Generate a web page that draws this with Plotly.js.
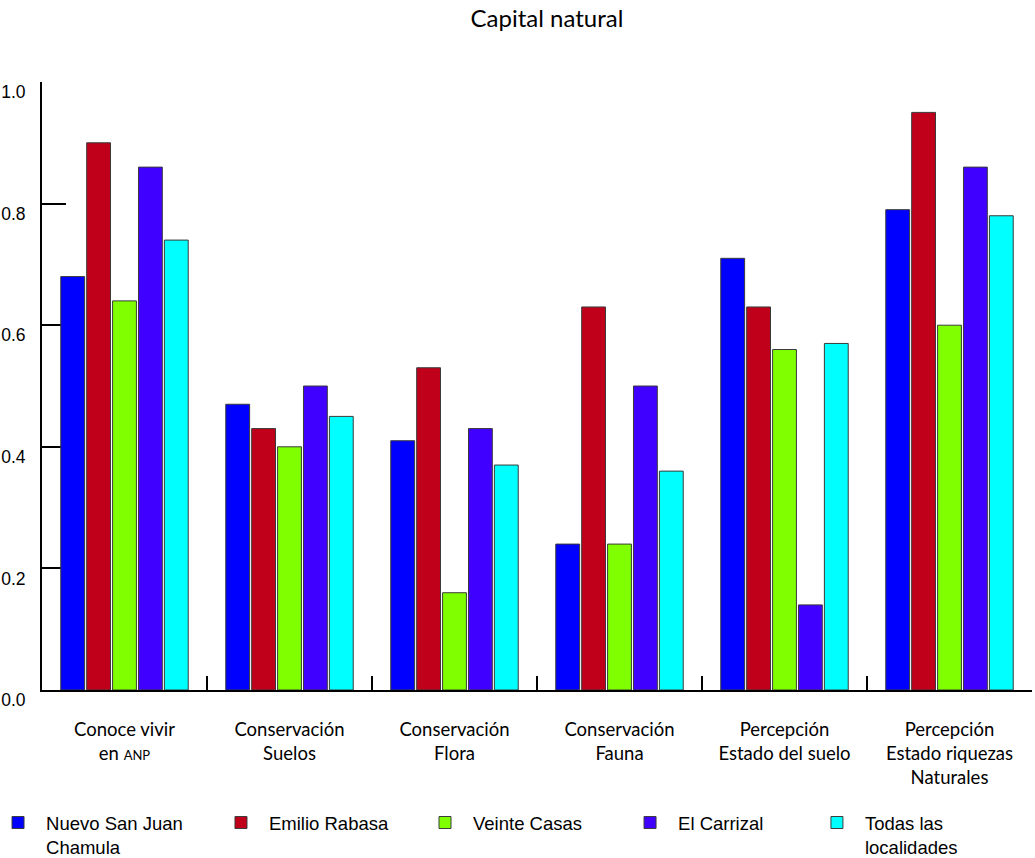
<!DOCTYPE html>
<html>
<head>
<meta charset="utf-8">
<script src="https://cdn.plot.ly/plotly-3.0.1.min.js"></script>
<style>
  html, body { margin: 0; padding: 0; background: #fff; }
  #plot { width: 1035px; height: 858px; }
</style>
</head>
<body>
<div id="plot"></div>
<script>
// categories (x axis)
const categories = [
  'Conoce vivir<br>en <span style="font-size:13px">ANP</span>',
  'Conservación<br>Suelos',
  'Conservación<br>Flora',
  'Conservación<br>Fauna',
  'Percepción<br>Estado del suelo',
  'Percepción<br>Estado riquezas<br>Naturales',
];

// series names
const seriesNames = [
  'Nuevo San Juan<br>Chamula',
  'Emilio Rabasa',
  'Veinte Casas',
  'El Carrizal',
  'Todas las<br>localidades',
];

// values
const nuevoSanJuan = [0.68, 0.47, 0.41, 0.24, 0.71, 0.79];
const emilioRabasa = [0.90, 0.43, 0.53, 0.63, 0.63, 0.95];
const veinteCasas  = [0.64, 0.40, 0.16, 0.24, 0.56, 0.60];
const elCarrizal   = [0.86, 0.50, 0.43, 0.50, 0.14, 0.86];
const todas        = [0.74, 0.45, 0.37, 0.36, 0.57, 0.78];

const seriesValues = [nuevoSanJuan, emilioRabasa, veinteCasas, elCarrizal, todas];
const seriesColors = ['#0000ff', '#c0001a', '#80ff00', '#4000ff', '#00ffff'];

// one small legend per series so each entry sits where the original has it
const legendIds = ['legend', 'legend2', 'legend3', 'legend4', 'legend5'];
const legendX = [-0.0525, 0.1727, 0.3788, 0.5859, 0.7747];

const data = seriesValues.map((vals, i) => ({
  type: 'bar',
  name: seriesNames[i],
  x: categories,
  y: vals,
  legend: legendIds[i],
  marker: {
    color: seriesColors[i],
    line: { color: '#3a3a3a', width: 1 },
  },
  hoverinfo: 'x+y+name',
}));

const legendBase = {
  orientation: 'h',
  xanchor: 'left',
  y: -0.1875,
  yanchor: 'top',
  valign: 'top',
  itemwidth: 46,
  font: { family: 'Liberation Sans, Arial, sans-serif', size: 18.5, color: '#000' },
  bgcolor: 'rgba(0,0,0,0)',
};

const layout = {
  width: 1035,
  height: 858,
  paper_bgcolor: '#fff',
  plot_bgcolor: '#fff',
  font: { family: 'Liberation Sans, Arial, sans-serif', color: '#000' },
  title: {
    text: 'Capital natural',
    font: { family: 'Lato, sans-serif', size: 24, color: '#000' },
    x: 0.5285,
    xanchor: 'center',
    y: 0.988,
    yanchor: 'top',
  },
  barmode: 'group',
  bargap: 0.215,
  bargroupgap: 0.08,
  margin: { l: 42, r: 3, t: 82, b: 168, autoexpand: false },
  xaxis: {
    type: 'category',
    range: [-0.5, 5.5],
    showline: true,
    linecolor: '#000',
    linewidth: 2,
    showgrid: false,
    zeroline: false,
    ticks: 'inside',
    tickson: 'boundaries',
    ticklen: 14,
    tickwidth: 2,
    tickcolor: '#000',
    ticklabelstandoff: 22,
    tickfont: { family: 'Lato, sans-serif', size: 18.5, color: '#000' },
  },
  yaxis: {
    range: [0, 1],
    dtick: 0.2,
    tick0: 0,
    tickformat: '.1f',
    showline: true,
    linecolor: '#000',
    linewidth: 2,
    showgrid: false,
    zeroline: false,
    ticks: 'inside',
    ticklen: 24,
    tickwidth: 2,
    tickcolor: '#000',
    layer: 'below traces',
    ticklabelshift: 10,
    ticklabelstandoff: 11,
    tickfont: { family: 'Liberation Sans, Arial, sans-serif', size: 17.5, color: '#000' },
  },
  showlegend: true,
};

legendIds.forEach((id, i) => {
  layout[id] = Object.assign({}, legendBase, { x: legendX[i] });
});

Plotly.newPlot('plot', data, layout, { displayModeBar: false, staticPlot: true });
</script>
</body>
</html>
